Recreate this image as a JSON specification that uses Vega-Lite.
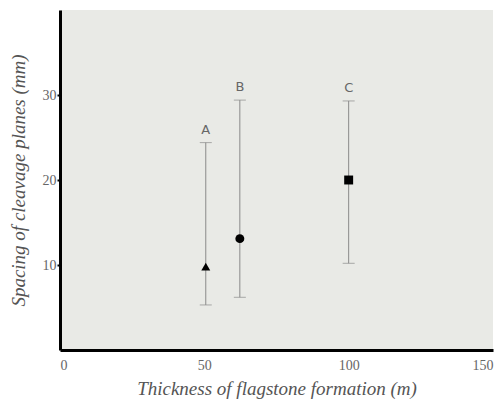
{
  "$schema": "https://vega.github.io/schema/vega-lite/v6.json",
  "autosize": "none",
  "width": 433,
  "height": 340,
  "padding": {"left": 60, "top": 10, "right": 9, "bottom": 53},
  "background": "white",
  "config": {
    "view": {"fill": "#e9eae6", "stroke": null},
    "axis": {
      "domainColor": "black", "domainWidth": 3, "grid": false,
      "tickColor": "black", "tickSize": 3, "tickWidth": 2,
      "labelFont": "Liberation Serif", "labelFontSize": 14, "labelColor": "#666666",
      "titleFont": "Liberation Serif", "titleFontSize": 19, "titleFontStyle": "italic",
      "titleFontWeight": "normal", "titleColor": "#555555"
    }
  },
  "data": {"values": [
    {"site": "A", "thickness": 50.5, "spacing": 9.8, "low": 5.3, "high": 24.4, "shape": "triangle-up"},
    {"site": "B", "thickness": 62.3, "spacing": 13.1, "low": 6.2, "high": 29.4, "shape": "circle"},
    {"site": "C", "thickness": 100, "spacing": 20, "low": 10.2, "high": 29.3, "shape": "square"}
  ]},
  "layer": [
    {
      "mark": {"type": "rule", "color": "#8a8a8a", "strokeWidth": 1},
      "encoding": {
        "x": {"field": "thickness", "type": "quantitative",
          "scale": {"domain": [0, 150], "nice": false},
          "axis": {"values": [0, 50, 100, 150], "title": "Thickness of flagstone formation (m)", "labelPadding": 8, "titlePadding": 7, "tickSize": 0}},
        "y": {"field": "low", "type": "quantitative",
          "scale": {"domain": [0, 40], "nice": false},
          "axis": {"values": [10, 20, 30], "title": "Spacing of cleavage planes (mm)", "labelPadding": 1, "titlePadding": 14}},
        "y2": {"field": "high"}
      }
    },
    {
      "mark": {"type": "tick", "orient": "horizontal", "color": "#8a8a8a", "size": 12, "thickness": 1},
      "encoding": {
        "x": {"field": "thickness", "type": "quantitative"},
        "y": {"field": "low", "type": "quantitative"}
      }
    },
    {
      "mark": {"type": "tick", "orient": "horizontal", "color": "#8a8a8a", "size": 12, "thickness": 1},
      "encoding": {
        "x": {"field": "thickness", "type": "quantitative"},
        "y": {"field": "high", "type": "quantitative"}
      }
    },
    {
      "mark": {"type": "point", "filled": true, "color": "black", "opacity": 1, "size": 80},
      "encoding": {
        "x": {"field": "thickness", "type": "quantitative"},
        "y": {"field": "spacing", "type": "quantitative"},
        "shape": {"field": "shape", "type": "nominal", "scale": null, "legend": null}
      }
    },
    {
      "mark": {"type": "text", "dy": -13, "font": "DejaVu Sans", "fontSize": 13, "color": "#666666"},
      "encoding": {
        "x": {"field": "thickness", "type": "quantitative"},
        "y": {"field": "high", "type": "quantitative"},
        "text": {"field": "site"}
      }
    }
  ]
}
